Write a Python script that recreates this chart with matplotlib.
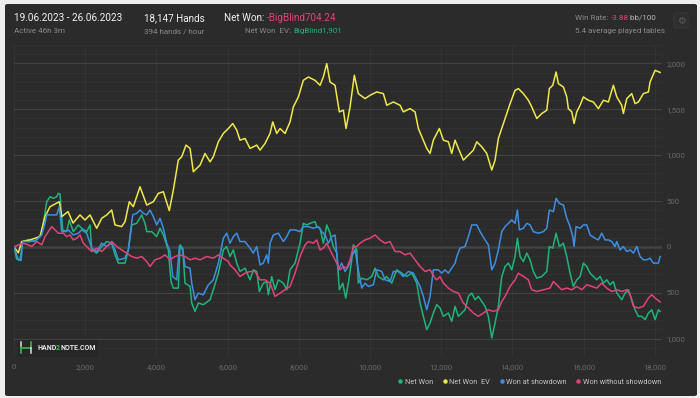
"""
Hand2Note style results graph: Net Won, EV, showdown / non-showdown lines
over 18,147 hands, dark card layout.
"""

import matplotlib
matplotlib.use('Agg')
import matplotlib.pyplot as plt
from matplotlib.patches import FancyBboxPatch, Rectangle
from matplotlib.lines import Line2D
from matplotlib.text import Annotation
from matplotlib.ticker import FuncFormatter, MultipleLocator

plt.rcParams['font.family'] = ['Roboto', 'DejaVu Sans']

# --- Data (hands played, big blinds won) ---
ev_hands = [0, 121, 216, 449, 730, 871, 1011, 1273, 1340, 1517, 1657, 1854, 1994, 2135,
            2323, 2464, 2604, 2744, 2837, 3025, 3118, 3239, 3351, 3539, 3728, 3913, 4053,
            4194, 4362, 4475, 4615, 4711, 4831, 4944, 5037, 5225, 5365, 5506, 5598, 5739,
            5879, 6020, 6143, 6256, 6348, 6489, 6629, 6818, 6910, 7051, 7191, 7267, 7379,
            7472, 7612, 7753, 7846, 7986, 8127, 8267, 8455, 8596, 8688, 8784, 8876, 9017,
            9138, 9250, 9326, 9438, 9559, 9671, 9860, 10000, 10188, 10374, 10469, 10654,
            10843, 10935, 11124, 11264, 11357, 11497, 11593, 11685, 11778, 11947, 12059,
            12200, 12295, 12388, 12481, 12621, 12762, 12902, 12998, 13138, 13278, 13419,
            13511, 13604, 13792, 13933, 14073, 14166, 14306, 14447, 14542, 14683, 14823,
            14963, 15036, 15132, 15225, 15290, 15430, 15525, 15570, 15666, 15730, 15806,
            15899, 15992, 16132, 16273, 16413, 16554, 16694, 16834, 16930, 17070, 17115,
            17211, 17351, 17444, 17537, 17677, 17818, 17865, 18006, 18147]
net_won_ev = [0, -65, 58, 76, 112, 330, 438, 492, 330, 384, 260, 348, 293, 348,
              203, 312, 348, 402, 239, 221, 275, 492, 438, 655, 456, 492, 583,
              601, 395, 620, 946, 982, 1109, 1073, 819, 891, 1018, 927, 982, 1145,
              1236, 1290, 1344, 1272, 1163, 1181, 1073, 1109, 1054, 1127, 1236, 1362, 1236,
              1290, 1236, 1362, 1525, 1634, 1815, 1851, 1815, 1761, 1851, 1997, 1797, 1761,
              1471, 1489, 1290, 1525, 1870, 1670, 1616, 1652, 1688, 1670, 1543, 1579,
              1543, 1471, 1507, 1471, 1290, 1163, 1073, 1018, 1163, 1290, 1163,
              1145, 1018, 1163, 1073, 946, 1000, 1054, 1145, 1091, 1018, 837,
              946, 1181, 1399, 1561, 1706, 1725, 1670, 1598, 1525, 1399, 1453,
              1489, 1725, 1761, 1906, 1779, 1743, 1634, 1507, 1471, 1344, 1471,
              1543, 1634, 1598, 1579, 1507, 1598, 1579, 1761, 1634, 1543, 1453,
              1616, 1670, 1561, 1579, 1670, 1688, 1797, 1924, 1901]

nw_hands = [0, 76, 169, 244, 402, 590, 778, 823, 919, 1011, 1104, 1199, 1244, 1292, 1368,
            1480, 1553, 1666, 1806, 1902, 2042, 2135, 2183, 2323, 2464, 2604, 2744, 2837,
            2930, 3118, 3211, 3306, 3447, 3587, 3680, 3728, 3868, 4008, 4101, 4194, 4334,
            4410, 4475, 4615, 4663, 4739, 4803, 4944, 4992, 5084, 5177, 5317, 5506, 5598,
            5739, 5879, 5975, 6067, 6160, 6256, 6348, 6489, 6629, 6722, 6818, 6890, 7003,
            7098, 7143, 7239, 7331, 7424, 7565, 7660, 7753, 7893, 8034, 8127, 8222, 8314,
            8455, 8503, 8596, 8688, 8784, 8876, 8969, 9065, 9138, 9233, 9318, 9391, 9486,
            9531, 9627, 9671, 9767, 9907, 10048, 10140, 10233, 10374, 10469, 10610, 10750,
            10891, 11031, 11172, 11312, 11405, 11497, 11593, 11685, 11778, 11873, 11966,
            12059, 12200, 12295, 12388, 12481, 12576, 12669, 12762, 12857, 12950, 13043,
            13138, 13231, 13323, 13419, 13511, 13604, 13700, 13792, 13885, 13980, 14073,
            14138, 14214, 14306, 14402, 14494, 14587, 14683, 14823, 14963, 15036, 15132,
            15225, 15318, 15430, 15525, 15618, 15711, 15806, 15899, 15992, 16087, 16180,
            16273, 16368, 16461, 16554, 16649, 16742, 16834, 16930, 17070, 17163, 17257,
            17351, 17444, 17537, 17632, 17725, 17818, 17913, 18006, 18098, 18147]
net_won = [0, -134, -141, 58, 76, 58, 149, 257, 492, 547, 529, 547, 583, 576, 185,
           166, 293, 166, 239, 203, 166, 239, -33, -68, 4, 58, 40, -87,
           -177, -177, -33, 239, 257, 348, 257, 166, 166, 112, 203, 130, -33,
           -377, -449, -449, 22, -14, -395, -431, -612, -703, -612, -630, -576, -467,
           -286, -33, 4, -105, -33, -177, -268, -232, -359, -250, -268, -486, -395,
           -377, -522, -323, -467, -359, -395, -467, -250, -177, 40, 257, 239, 257,
           275, 221, 203, 40, 239, 149, 4, -68, -467, -395, -558, -395, -141,
           22, -33, -395, -341, -359, -323, -232, -323, -359, -323, -395, -250,
           -286, -323, -286, -395, -612, -757, -902, -829, -721, -630, -666,
           -757, -721, -812, -648, -757, -721, -685, -540, -503, -576, -540,
           -594, -648, -757, -992, -829, -648, -323, -214, -177, -250, -105,
           94, -105, -160, -68, -141, -268, -341, -323, -268, 4, -14,
           149, 4, 40, -105, -286, -431, -359, -323, -177, -214, -286,
           -323, -359, -323, -395, -359, -413, -377, -503, -576, -503, -467,
           -576, -685, -757, -757, -793, -721, -685, -793, -685, -704]

sd_hands = [0, 121, 197, 244, 449, 638, 778, 871, 919, 1199, 1273, 1340, 1433, 1525,
            1666, 1806, 1902, 2042, 2183, 2323, 2464, 2604, 2744, 2837, 2930, 3118, 3211,
            3334, 3447, 3539, 3632, 3728, 3820, 3913, 4008, 4101, 4194, 4289, 4382, 4458,
            4570, 4643, 4739, 4803, 4944, 4992, 5084, 5177, 5317, 5458, 5598, 5739, 5879,
            5975, 6067, 6160, 6256, 6348, 6489, 6629, 6722, 6818, 6910, 7003, 7098, 7143,
            7191, 7284, 7424, 7565, 7660, 7753, 7893, 8034, 8127, 8267, 8408, 8548, 8643,
            8736, 8829, 8924, 9017, 9110, 9205, 9298, 9391, 9486, 9579, 9671, 9767, 9860,
            9953, 10093, 10188, 10329, 10422, 10562, 10655, 10795, 10935, 11076, 11216,
            11312, 11405, 11497, 11593, 11685, 11778, 11919, 12014, 12107, 12200, 12295,
            12388, 12436, 12528, 12669, 12762, 12857, 12998, 13091, 13231, 13323, 13419,
            13511, 13604, 13700, 13792, 13885, 13980, 14073, 14138, 14194, 14306, 14402,
            14494, 14587, 14728, 14868, 14963, 15036, 15149, 15225, 15318, 15430, 15525,
            15618, 15694, 15730, 15786, 15899, 15992, 16087, 16180, 16320, 16413, 16508,
            16601, 16694, 16789, 16882, 16930, 17023, 17115, 17211, 17304, 17397, 17491,
            17584, 17677, 17772, 17865, 17958, 18098, 18147]
won_at_sd = [0, -141, -149, 58, 58, 76, 130, 257, 348, 348, 438, 166, 166, 185,
             130, 149, 185, 149, -14, -51, 40, 4, 40, -33, -141, -123, -33,
             348, 366, 402, 366, 348, 402, 330, 239, 312, 203, 40, -51, -323,
             -359, 4, -33, -214, -232, -395, -576, -503, -522, -413, -359, -177, 94,
             149, 40, 112, 149, 58, 58, -14, -68, 4, -196, -177, -87, -177,
             40, 130, 149, 58, 112, 185, 185, 166, 221, 221, 203, 221, 166,
             130, 40, 112, 130, -250, -177, -268, -214, -105, -33, -250, -449, -395,
             -431, -413, -250, -268, -359, -377, -268, -268, -323, -268, -286,
             -359, -431, -540, -685, -540, -250, -250, -286, -250, -286, -232,
             -177, -105, -14, 4, 112, 239, 239, 166, 76, 22, -250,
             -177, -33, 166, 221, 257, 293, 257, 402, 185, 203, 257,
             239, 166, 149, 166, 203, 402, 384, 529, 474, 456, 312,
             221, 112, 4, 221, 203, 239, 239, 130, 94, 76, 149,
             76, 76, 58, 4, 58, -33, 4, -51, -33, -68, 4,
             -105, -141, -141, -123, -177, -177, -105]

nsd_hands = [0, 121, 261, 402, 497, 638, 778, 871, 963, 1059, 1152, 1244, 1385, 1480,
             1573, 1666, 1761, 1854, 1947, 2087, 2183, 2323, 2464, 2604, 2744, 2885, 3025,
             3166, 3306, 3447, 3587, 3728, 3820, 3961, 4101, 4242, 4382, 4522, 4663, 4803,
             4944, 5084, 5225, 5413, 5598, 5739, 5879, 6020, 6067, 6207, 6348, 6489, 6629,
             6770, 6910, 7051, 7191, 7331, 7472, 7612, 7753, 7893, 8034, 8174, 8267, 8408,
             8503, 8596, 8688, 8784, 8876, 8969, 9065, 9157, 9250, 9345, 9438, 9531, 9627,
             9719, 9860, 10000, 10140, 10281, 10422, 10562, 10703, 10843, 10983, 11124,
             11264, 11405, 11545, 11685, 11825, 11873, 11966, 12059, 12200, 12341, 12481,
             12621, 12762, 12902, 13043, 13183, 13323, 13464, 13604, 13700, 13792, 13933,
             14073, 14166, 14306, 14447, 14542, 14683, 14870, 15056, 15149, 15242, 15383,
             15525, 15666, 15806, 15947, 16087, 16228, 16368, 16508, 16649, 16789, 16930,
             17070, 17211, 17304, 17397, 17537, 17677, 17818, 17913, 18006, 18147]
won_without_sd = [0, 22, 40, 22, 4, 58, 22, 112, 166, 221, 185, 149, 149, 112,
                  130, 76, 94, 130, 40, -14, -51, -14, -51, 4, 58, 4, -33,
                  -68, -105, -123, -105, -160, -214, -141, -123, -87, -141, -105, -87, -105,
                  -141, -123, -141, -105, -123, -87, -123, -160, -196, -250, -323, -286, -268,
                  -268, -359, -359, -395, -540, -503, -467, -431, -286, -105, 22, 58, 40,
                  76, -33, -14, 40, -33, -105, -177, -250, -214, -232, -141, 4, 4,
                  40, 76, 94, 130, 76, 40, 58, -51, -51, -87, -68,
                  -141, -214, -268, -250, -341, -359, -323, -395, -449, -486, -503,
                  -612, -666, -721, -757, -721, -685, -703, -685, -594, -540, -431,
                  -359, -286, -323, -359, -467, -486, -467, -449, -377, -413, -467,
                  -449, -467, -431, -467, -413, -431, -449, -395, -449, -486, -467,
                  -486, -467, -522, -648, -666, -648, -558, -522, -558, -599]

x_ticks = [0, 2000, 4000, 6000, 8000, 10000, 12000, 14000, 16000, 18000]
y_ticks = [-1000, -500, 0, 500, 1000, 1500, 2000]

series = [
    ('Net Won', nw_hands, net_won, '#1db57a'),
    ('Net Won  EV', ev_hands, net_won_ev, '#f0e84a'),
    ('Won at showdown', sd_hands, won_at_sd, '#3d8fe3'),
    ('Won without showdown', nsd_hands, won_without_sd, '#e2427c'),
]

# --- Style ---
W, H = 700, 398
BG_OUT = '#eeeeee'
CARD = '#2b2b2b'
WHITE = '#f2f2f2'
GREY = '#8a8a8a'
TICK = '#6a6a6a'
PINK = '#e2427c'
GREEN = '#1db57a'
LOGO_GREEN = '#3cbf55'


def fx(px):
    return px / W


def fy(py):
    return 1 - py / H


fig = plt.figure(figsize=(W / 100, H / 100), dpi=100)
fig.patch.set_facecolor(BG_OUT)

# dark card (behind the axes)
card = FancyBboxPatch((fx(5), fy(396)), fx(692), 392 / H,
                      boxstyle='round,pad=0,rounding_size=0.004',
                      transform=fig.transFigure, facecolor=CARD, edgecolor='none',
                      zorder=-5)
fig.patches.append(card)

# --- Plot area ---
ax = fig.add_axes([fx(14), fy(357), fx(662 - 14), (357 - 45) / H])
ax.set_zorder(0)
ax.set_facecolor(CARD)
for spine in ax.spines.values():
    spine.set_visible(False)

ax.set_xlim(0, 18200)
ax.set_ylim(-1200, 2200)

ax.yaxis.set_minor_locator(MultipleLocator(100))
ax.set_yticks(y_ticks)
ax.set_xticks(x_ticks)
ax.grid(which='minor', axis='y', color='#333333', linewidth=0.6)
ax.grid(which='major', axis='y', color='#424242', linewidth=0.9)
ax.grid(which='major', axis='x', color='#353535', linewidth=0.6)
ax.axhline(0, color='#858585', linewidth=1.0, zorder=1.5)

ax.yaxis.tick_right()
ax.tick_params(axis='both', which='both', length=0, labelsize=5.6, labelcolor=TICK)
ax.tick_params(axis='y', pad=3)
ax.tick_params(axis='x', pad=5)
ax.xaxis.set_major_formatter(FuncFormatter(lambda v, p: f'{int(v):,}'))
ax.yaxis.set_major_formatter(FuncFormatter(lambda v, p: f'{abs(int(v)):,}'))

for name, xs, ys, col in series:
    ax.plot(xs, ys, color=col, linewidth=1.1, zorder=3)


def text_after(prev, s, **kw):
    """Place a figure-level text right after another text, on the same baseline."""
    ann = Annotation(s, xy=(1, 0), xycoords=prev, va='bottom', ha='left',
                     annotation_clip=False, zorder=3, **kw)
    fig.add_artist(ann)
    return ann


# --- Header ---
t_kw = dict(transform=fig.transFigure, va='center', ha='left')
fig.text(fx(14), fy(18), '19.06.2023 - 26.06.2023', color=WHITE, fontsize=7.2, **t_kw)
fig.text(fx(14), fy(31), 'Active 46h 3m', color=GREY, fontsize=5.8, **t_kw)
fig.text(fx(144), fy(18), '18,147 Hands', color=WHITE, fontsize=7.1, **t_kw)
fig.text(fx(144), fy(31), '394 hands / hour', color=GREY, fontsize=5.8, **t_kw)

nw1 = fig.text(fx(224), fy(18), 'Net Won: ', color=WHITE, fontsize=7.1, **t_kw)
text_after(nw1, '-BigBlind704.24', color=PINK, fontsize=7.1)
ev1 = fig.text(fx(245), fy(31), 'Net Won  EV: ', color=GREY, fontsize=5.8, **t_kw)
text_after(ev1, 'BigBlind1,901', color=GREEN, fontsize=5.8)

wr1 = fig.text(fx(575), fy(18), 'Win Rate: ', color=GREY, fontsize=5.8, **t_kw)
wr2 = text_after(wr1, '-3.88', color=PINK, fontsize=5.8)
text_after(wr2, ' bb/100', color='#b8b8b8', fontsize=5.8)
fig.text(fx(575), fy(31), '5.4 average played tables', color=GREY, fontsize=5.8, **t_kw)

# settings button
gear_box = FancyBboxPatch((fx(674), fy(28)), fx(14), 15 / H,
                          boxstyle='round,pad=0,rounding_size=0.003',
                          transform=fig.transFigure, facecolor='#2e2e2e',
                          edgecolor='#3a3a3a', linewidth=0.6)
fig.patches.append(gear_box)
fig.text(fx(681), fy(20.5), '\u2699', color='#5c5c5c', fontsize=7,
         family=['DejaVu Sans'], transform=fig.transFigure, ha='center', va='center')

# --- Watermark ---
logo_bg = Rectangle((fx(18), fy(357)), fx(80), 17 / H, transform=fig.transFigure,
                    facecolor='#262626', edgecolor='none', zorder=1)
fig.patches.append(logo_bg)
icon = [
    ([20.7, 20.7], [342, 347], '#e0e0e0'),
    ([20.7, 20.7], [347, 353], LOGO_GREEN),
    ([20.7, 30.7], [347.5, 347.5], LOGO_GREEN),
    ([30.7, 30.7], [342, 348], LOGO_GREEN),
    ([30.7, 30.7], [348, 353], '#e0e0e0'),
]
for xs, ys, c in icon:
    fig.lines.append(Line2D([fx(v) for v in xs], [fy(v) for v in ys], color=c, lw=1.1,
                            transform=fig.transFigure, zorder=2))
logo_kw = dict(fontsize=5.0, fontweight='bold')
lg1 = fig.text(fx(37), fy(348.5), 'HAND', color='#e8e8e8', transform=fig.transFigure,
               va='center', ha='left', zorder=3, **logo_kw)
lg2 = text_after(lg1, '2', color=LOGO_GREEN, **logo_kw)
text_after(lg2, 'NOTE.COM', color='#e8e8e8', **logo_kw)

# --- Legend ---
handles = [Line2D([], [], linestyle='none', marker='o', markersize=2.2,
                  markerfacecolor=c, markeredgecolor=c) for _, _, _, c in series]
labels = [s[0] for s in series]
fig.legend(handles, labels, loc='center right', bbox_to_anchor=(fx(661), fy(382)),
           ncol=4, frameon=False, fontsize=5.3, labelcolor='#c4c4c4',
           handlelength=0.5, handletextpad=0.35, columnspacing=1.35, borderpad=0,
           borderaxespad=0)

fig.savefig('out.png', dpi=100, facecolor=fig.get_facecolor())
plt.close(fig)
